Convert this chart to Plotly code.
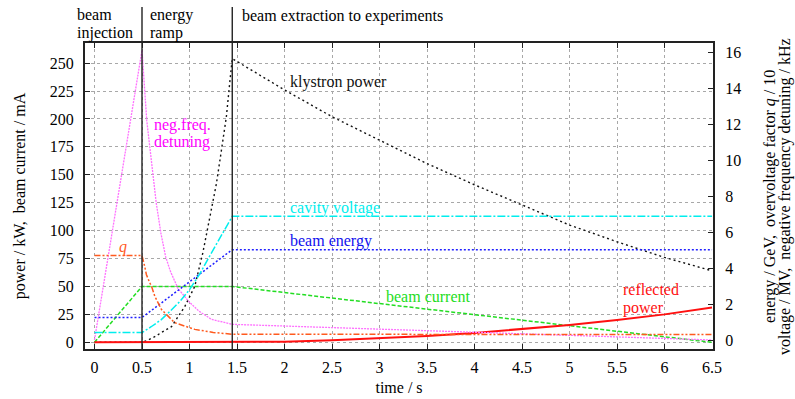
import plotly.graph_objects as go

# ---- data -------------------------------------------------------------
# left axis: power / kW, beam current / mA
t_klystron = [0, 0.5, 0.55, 0.634, 0.7, 0.81, 0.95, 1.055, 1.14, 1.23, 1.283,
              1.336, 1.388, 1.423, 1.45, 2.0, 2.5, 3.0, 3.5, 4.0, 4.5, 5.0,
              5.5, 6.0, 6.5]
p_klystron = [0, 0, 1.5, 5, 8.5, 14, 32, 50, 80, 120, 142,
              172, 202, 232, 254, 226, 202, 181, 160, 141, 123, 105,
              90, 76, 64]

t_current = [0, 0.5, 1.45, 6.5]
i_current = [0, 50, 50, 0]

t_reflected = [0, 1.45, 2.0, 2.5, 3.0, 3.5, 4.0, 4.5, 5.0, 5.5, 6.0, 6.5]
p_reflected = [0, 0, 0.6, 1.8, 3.4, 5.6, 8.4, 11.7, 15.5, 19.9, 25.0, 31.2]

# right axis: energy / GeV, q / 10, voltage / MV, detuning / kHz
t_energy = [0, 0.5, 1.45, 6.5]
e_energy = [1.25, 1.25, 5.02, 5.02]

t_voltage = [0, 0.5, 0.6, 0.7, 0.8, 0.9, 1.0, 1.1, 1.2, 1.3, 1.45, 6.5]
u_voltage = [0.41, 0.41, 0.75, 1.12, 1.62, 2.15, 2.8, 3.6, 4.55, 5.5, 6.87, 6.87]

t_q = [0, 0.5, 0.528, 0.546, 0.581, 0.6, 0.634, 0.704, 0.844, 1.055, 1.25, 1.45, 6.5]
q_over_10 = [4.69, 4.69, 4.1, 3.64, 3.18, 2.99, 2.44, 1.70, 0.96, 0.59, 0.42, 0.32, 0.30]

t_detuning = [0, 0.5, 0.55, 0.6, 0.65, 0.7, 0.75, 0.8, 0.88, 1.0, 1.1, 1.23, 1.45, 6.5]
f_detuning = [0, 16.1, 12.2, 9.8, 7.6, 5.9, 4.6, 3.8, 2.85, 2.1, 1.6, 1.15, 0.87, 0.0]

x_ticks = [0, 0.5, 1, 1.5, 2, 2.5, 3, 3.5, 4, 4.5, 5, 5.5, 6, 6.5]
x_ticktext = ["0", "0.5", "1", "1.5", "2", "2.5", "3", "3.5", "4", "4.5", "5", "5.5", "6", "6.5"]
y_ticks = [0, 25, 50, 75, 100, 125, 150, 175, 200, 225, 250]
y2_ticks = [0, 2, 4, 6, 8, 10, 12, 14, 16]

phase_bounds = [0.5, 1.45]

# ---- styling ----------------------------------------------------------
FONT = "Liberation Serif, Times New Roman, serif"
FS = 16

fig = go.Figure()

def add(t, v, color, dash, width=1.3, axis="y"):
    fig.add_trace(go.Scatter(x=t, y=v, mode="lines", yaxis=axis,
                             line=dict(color=color, dash=dash, width=width),
                             showlegend=False, hoverinfo="skip"))

add(t_detuning, f_detuning, "#ff70ff", "2px,1px", 1.3, "y2")
add(t_klystron, p_klystron, "#111111", "2px,3px", 1.4)
add(t_current, i_current, "#22dd22", "4px,2px", 1.5)
add(t_energy, e_energy, "#2020ff", "2px,2px", 1.5, "y2")
add(t_voltage, u_voltage, "#00eeee", "8px,2px,2px,2px", 1.5, "y2")
add(t_q, q_over_10, "#ff5a1e", "6px,2px,2px,2px,2px,2px", 1.5, "y2")
add(t_reflected, p_reflected, "#ff1010", "solid", 2.0)

# phase separators reaching above the frame
for xb in phase_bounds:
    fig.add_shape(type="line", xref="x", yref="paper", x0=xb, x1=xb,
                  y0=0, y1=1.1176, line=dict(color="#222222", width=1.4),
                  layer="above")

def label(text, x, y, color, xref="x", yref="y", anchor="left", italic=False):
    if italic:
        text = "<i>" + text + "</i>"
    fig.add_annotation(text=text, x=x, y=y, xref=xref, yref=yref,
                       xanchor=anchor, yanchor="middle", showarrow=False,
                       borderpad=0,
                       font=dict(family=FONT, size=FS, color=color))

# phase headings
label("beam", -0.0143, 1.0925, "black", xref="paper", yref="paper")
label("injection", -0.0143, 1.0335, "black", xref="paper", yref="paper")
label("energy", 0.1019, 1.0925, "black", xref="paper", yref="paper")
label("ramp", 0.1019, 1.0335, "black", xref="paper", yref="paper")
label("beam extraction to experiments", 0.2484, 1.0882, "black",
      xref="paper", yref="paper")

# curve labels
label("klystron power", 2.044, 233, "#111111")
label("neg.freq.", 0.616, 195, "#ff00ff")
label("detuning", 0.616, 179, "#ff00ff")
label("cavity voltage", 2.05, 120.7, "#00eeee")
label("beam energy", 2.05, 90.6, "#1010ee")
label("beam current", 3.055, 40.8, "#22dd22")
label("reflected", 5.553, 47, "#ff1010")
label("power", 5.553, 31, "#ff1010")
label("q", 0.3, 85.5, "#ff5a1e", anchor="center", italic=True)

# right axis title (two lines)
label("energy / GeV,\u00a0 overvoltage factor <i>q</i> / 10", 1.0907, 0.5, "black",
      xref="paper", yref="paper", anchor="center")
label("voltage / MV,\u00a0 negative frequency detuning / kHz", 1.1146, 0.5, "black",
      xref="paper", yref="paper", anchor="center")
for a in fig.layout.annotations[-2:]:
    a.textangle = -90

axis_common = dict(
    showline=True, linecolor="#222222", linewidth=2,
    ticks="inside", ticklen=5, tickcolor="#222222", tickwidth=1,
    tickfont=dict(family=FONT, size=FS, color="black"),
    zeroline=False, automargin=False,
)

fig.update_layout(
    width=795, height=399,
    margin=dict(l=85, r=82, t=43, b=50),
    paper_bgcolor="white", plot_bgcolor="white",
    font=dict(family=FONT, size=FS, color="black"),
    xaxis=dict(range=[-0.1, 6.51], tickvals=x_ticks, ticktext=x_ticktext,
               mirror="ticks", showgrid=True, gridcolor="#a8a8a8",
               griddash="dot", gridwidth=1, ticklabelstandoff=3,
               title=dict(text="time / s", standoff=7,
                          font=dict(family=FONT, size=FS)),
               **axis_common),
    yaxis=dict(range=[-6, 268], tickvals=y_ticks, mirror=True,
               showgrid=True, gridcolor="#a8a8a8", griddash="dot", gridwidth=1,
               ticklabelstandoff=6,
               title=dict(text="power / kW,\u00a0 beam current / mA", standoff=20,
                          font=dict(family=FONT, size=FS)),
               **axis_common),
    yaxis2=dict(range=[-0.5, 16.5], tickvals=y2_ticks, overlaying="y",
                side="right", showgrid=False, ticklabelstandoff=7,
                **axis_common),
)

fig.write_html("out.html")
